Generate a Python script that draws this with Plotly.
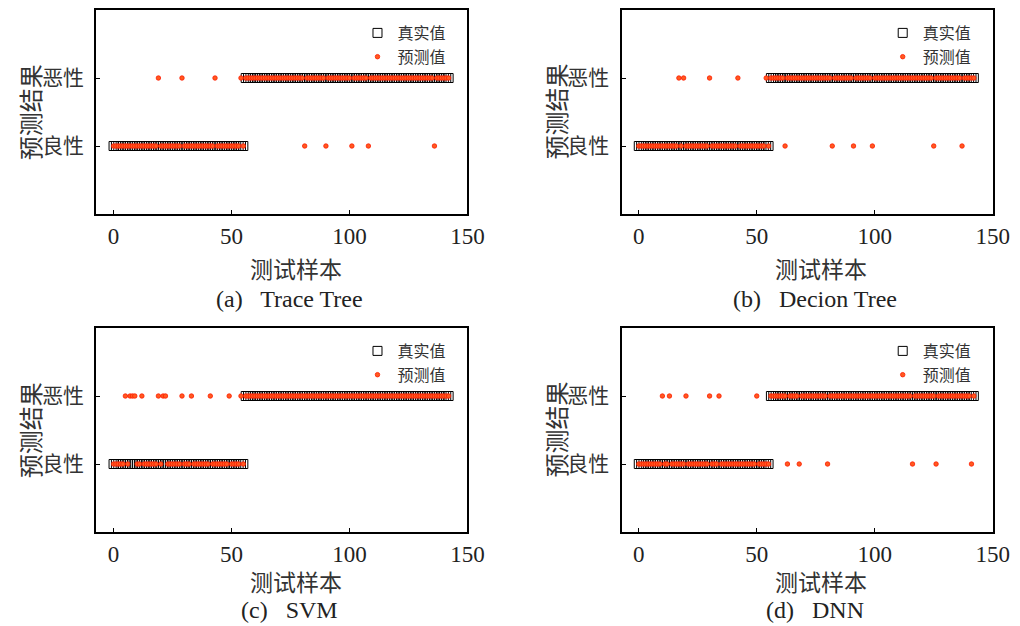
import plotly.graph_objects as go

# ---------------- data ----------------
n_samples = 143
n_benign = 56                      # samples 0..55 are benign (良性), rest malignant (恶性)
samples = list(range(n_samples))
true_vals = [1] * n_benign + [2] * (n_samples - n_benign)

y_tick_vals = [1, 2]
y_tick_text = ["良性", "恶性"]
x_tick_vals = [0, 50, 100, 150]

# benign samples predicted malignant / malignant samples predicted benign
a_fp = [19, 29, 43, 54]
a_fn = [81, 90, 101, 108, 136]
b_fp = [17, 19, 30, 42, 54]
b_fn = [62, 82, 91, 99, 125, 137]
c_fp = [5, 7, 8, 9, 12, 19, 21, 22, 29, 33, 41, 49, 54]
c_fn = []
d_fp = [10, 13, 20, 30, 34, 50]
d_fn = [63, 68, 80, 116, 126, 141]

panel_names = ["(a)   Trace Tree", "(b)   Decion Tree", "(c)   SVM", "(d)   DNN"]
panel_errors = [(a_fp, a_fn), (b_fp, b_fn), (c_fp, c_fn), (d_fp, d_fn)]


def predictions(fp, fn):
    p = list(true_vals)
    for i in fp:
        p[i] = 2
    for i in fn:
        p[i] = 1
    return p


# ---------------- layout geometry ----------------
# the captured page is seen ~1.7% narrower horizontally; lay out in target-picture pixels
XS = 0.9832
W, H = 1037, 626


def fx(px):
    return ((px + 0.3) / XS) / W


def fy(py):
    return 1 - py / H


# target pixel boxes (left, right, top, bottom), x-title y, subtitle y
boxes = [(96, 467, 10, 214, 268, 299), (621, 992, 10, 214, 268, 299),
         (96, 467, 328, 532, 581, 610), (621, 992, 328, 532, 581, 610)]

CJK = "Noto Sans CJK SC"
SERIF = "Liberation Serif"
TXT = "#333333"

fig = go.Figure()
annotations = []
layout = dict(
    width=W, height=H, autosize=False, margin=dict(l=0, r=0, t=0, b=0, pad=0),
    paper_bgcolor="white", plot_bgcolor="white", showlegend=True,
)

for k, (name, (fp, fn)) in enumerate(zip(panel_names, panel_errors)):
    idx = "" if k == 0 else str(k + 1)
    xa, ya = "x" + idx, "y" + idx
    leg = "legend" + idx
    l, r, t, b, ty, sy = boxes[k]
    pred = predictions(fp, fn)

    fig.add_trace(go.Scatter(
        x=samples, y=true_vals, mode="markers", name="真实值",
        xaxis=xa, yaxis=ya, legend=leg,
        marker=dict(symbol="square-open", size=9, color="black", line=dict(width=1)),
    ))
    fig.add_trace(go.Scatter(
        x=samples, y=pred, mode="markers", name="预测值",
        xaxis=xa, yaxis=ya, legend=leg,
        marker=dict(symbol="circle", size=4.5, color="#ff5a1f",
                    line=dict(color="#ff1a00", width=0.8)),
    ))

    axis_common = dict(showline=True, linecolor="black", linewidth=2, mirror=True,
                       showgrid=False, zeroline=False, ticks="inside", ticklen=4,
                       tickcolor="black", tickwidth=1)
    layout["xaxis" + idx] = dict(
        axis_common, domain=[fx(l), fx(r)], anchor=ya, range=[-7.3, 150],
        tickvals=x_tick_vals, tickfont=dict(family=SERIF, size=23, color="#222"),
    )
    layout["yaxis" + idx] = dict(
        axis_common, domain=[fy(b), fy(t)], anchor=xa, range=[0, 3],
        tickvals=y_tick_vals, ticktext=y_tick_text, ticklabelstandoff=6,
        tickfont=dict(family=CJK, size=21, color=TXT),
    )
    layout[leg] = dict(
        x=fx(r - 16), y=fy(t + 6), xanchor="right", yanchor="top",
        bgcolor="rgba(0,0,0,0)", borderwidth=0,
        font=dict(family=CJK, size=16, color=TXT), itemwidth=30,
        tracegroupgap=0,
    )
    cx = (l + r) / 2
    annotations.append(dict(
        text="测试样本", xref="paper", yref="paper", x=fx(cx + 14), y=fy(ty),
        xanchor="center", yanchor="middle", showarrow=False,
        font=dict(family=CJK, size=23, color=TXT),
    ))
    annotations.append(dict(
        text=name, xref="paper", yref="paper", x=fx(cx + 8), y=fy(sy),
        xanchor="center", yanchor="middle", showarrow=False,
        font=dict(family=SERIF, size=24, color="#222"),
    ))
    annotations.append(dict(
        text="预测结果", xref="paper", yref="paper", x=fx(l - 67), y=fy((t + b) / 2),
        xanchor="center", yanchor="middle", showarrow=False, textangle=-90,
        font=dict(family=CJK, size=24, color=TXT),
    ))

layout["annotations"] = annotations
fig.update_layout(**layout)

post = (
    "document.documentElement.style.margin='0';"
    "document.body.style.margin='0';"
    "document.body.style.padding='0';"
    "document.documentElement.style.overflow='hidden';"
    "document.body.style.overflow='hidden';"
)
fig.write_html("out.html", post_script=post,
               config={"displayModeBar": False, "responsive": False})
